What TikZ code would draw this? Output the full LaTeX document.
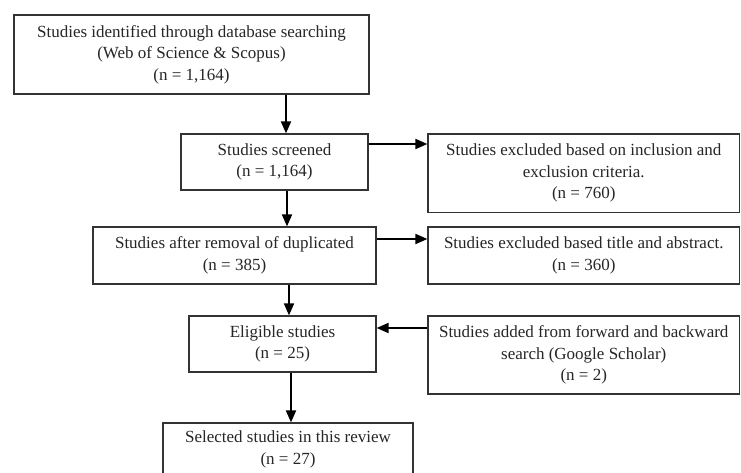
\documentclass[tikz,border=0pt]{standalone}
\usepackage{fontspec}
\setmainfont{Liberation Serif}
\usetikzlibrary{arrows.meta}
\begin{document}
\begin{tikzpicture}[x=1pt,y=-1pt,
  box/.style={draw=black!80, line width=1.2pt, rectangle, align=center,
    inner sep=0pt, text=black!85, font=\fontsize{17}{21.5}\selectfont},
  arr/.style={draw=black, line width=1.8pt, -{Triangle[length=12pt,width=10pt]}}]
\clip (0,0) rectangle (741,473);
\fill[white] (0,0) rectangle (741,473);
\node[box, minimum width=355pt, minimum height=79pt] (b1) at (191.5,54.5)
  {Studies identified through database searching\\(Web of Science \& Scopus)\\(n = 1,164)};
\node[box, minimum width=187pt, minimum height=56pt] (b2) at (274.5,162)
  {Studies screened\\(n = 1,164)};
\node[box, minimum width=283pt, minimum height=57pt] (b3) at (234.5,255.5)
  {Studies after removal of duplicated\\(n = 385)};
\node[box, minimum width=187pt, minimum height=56pt] (b4) at (282.5,344)
  {Eligible studies\\(n = 25)};
\node[box, minimum width=250pt, minimum height=53pt] (b5) at (288,449.5)
  {Selected studies in this review\\(n = 27)};
\node[box, minimum width=311.5pt, minimum height=78.5pt] (r1) at (583.75,173.25)
  {Studies excluded based on inclusion and\\exclusion criteria.\\(n = 760)};
\node[box, minimum width=311.5pt, minimum height=57pt] (r2) at (583.75,255.5)
  {Studies excluded based title and abstract.\\(n = 360)};
\node[box, minimum width=311.5pt, minimum height=78pt] (r3) at (583.75,355)
  {Studies added from forward and backward\\search (Google Scholar)\\(n = 2)};
\coordinate (v1) at (286,0);
\coordinate (v2) at (287,0);
\coordinate (v3) at (289,0);
\coordinate (v4) at (291,0);
\coordinate (h1) at (0,144);
\coordinate (h2) at (0,239);
\coordinate (h3) at (0,328);
\draw[arr] (b1.south -| v1) -- (b2.north -| v1);
\draw[arr] (b2.south -| v2) -- (b3.north -| v2);
\draw[arr] (b3.south -| v3) -- (b4.north -| v3);
\draw[arr] (b4.south -| v4) -- (b5.north -| v4);
\draw[arr] (b2.east |- h1) -- (r1.west |- h1);
\draw[arr] (b3.east |- h2) -- (r2.west |- h2);
\draw[arr] (r3.west |- h3) -- (b4.east |- h3);
\end{tikzpicture}
\end{document}
